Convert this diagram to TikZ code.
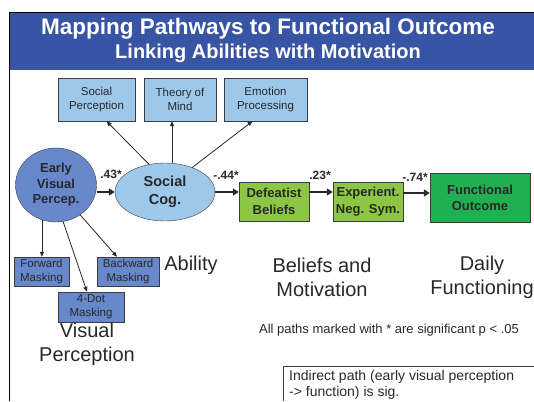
\documentclass[tikz,border=0pt]{standalone}
\usepackage{fontspec}
\setmainfont{Liberation Sans}
\usetikzlibrary{arrows.meta}
\usetikzlibrary{shapes.geometric}
\definecolor{titleblue}{RGB}{56,84,164}
\definecolor{skyblue}{RGB}{158,200,234}
\definecolor{midblue}{RGB}{104,136,204}
\definecolor{leafgreen}{RGB}{140,198,68}
\definecolor{deepgreen}{RGB}{32,176,82}
\definecolor{inkgray}{RGB}{40,40,40}
\definecolor{edgegray}{RGB}{60,60,60}
\newcommand*{\fsz}[2]{\fontsize{#1}{#2}\selectfont}

\begin{document}
\begin{tikzpicture}[x=1pt,y=-1pt,
    every node/.style={text=inkgray},
    measure/.style={draw=edgegray, fill=skyblue, inner sep=1pt, align=center,
                    minimum height=43pt, font=\fsz{11.5}{14}},
    lowmeasure/.style={measure, fill=midblue, minimum height=29pt},
    latent/.style={draw=edgegray, ellipse, inner sep=0pt, align=center,
                   font=\bfseries\fsz{13}{15.5}},
    belief/.style={draw=edgegray, fill=leafgreen, minimum width=70pt, minimum height=39pt,
                   inner sep=1pt, align=center, font=\bfseries\fsz{13}{17}},
    coef/.style={inner sep=0pt, font=\bfseries\fsz{12}{14}},
    heading/.style={inner sep=0pt, align=center, font=\fsz{20}{24}},
    mainpath/.style={line width=2.2pt, draw=inkgray, -{Triangle[length=6pt,width=7pt]}},
    load/.style={line width=0.8pt, draw=inkgray, -{Triangle[length=5pt,width=4pt]}}]
  \useasboundingbox (0,0) rectangle (534,401);
  % frame and title bar
  \fill[titleblue] (9,12) rectangle (534,70);
  \draw[line width=0.8pt] (534,12) -- (9,12) -- (9,401);
  \node[inner sep=0pt, text=white, font=\bfseries\fsz{22.5}{26}] (title) at (268,29)
    {Mapping Pathways to Functional Outcome};
  \node[inner sep=0pt, text=white, font=\bfseries\fsz{20}{24}] (subtitle) at (268,53)
    {Linking Abilities with Motivation};

  % social cognition measures
  \node[measure, minimum width=77pt] (sp) at (96.5,99.5) {Social\\Perception};
  \node[measure, minimum width=72pt] (tom) at (180,99.5) {Theory of\\Mind};
  \node[measure, minimum width=83pt] (ep) at (265.5,99.5) {Emotion\\Processing};

  % latent variables
  \node[latent, fill=midblue, minimum width=81pt, minimum height=74pt] (evp) at (56,185)
    {Early\\Visual\\Percep.};
  \node[latent, fill=skyblue, minimum width=100pt, minimum height=58pt,
        font=\bfseries\fsz{14.5}{18}] (scog) at (165,192) {Social\\Cog.};

  \node[belief] (def) at (274,201.5) {Defeatist\\Beliefs};
  \node[belief] (neg) at (368,201.5) {Experient.\\Neg. Sym.};
  \node[belief, fill=deepgreen, minimum width=100pt, minimum height=49pt,
        font=\bfseries\fsz{13}{16}] (fo) at (480,197.5) {Functional\\Outcome};

  % visual perception measures
  \node[lowmeasure, minimum width=55pt] (fwd) at (41.5,271.5) {Forward\\Masking};
  \node[lowmeasure, minimum width=62pt] (bwd) at (128,271.5) {Backward\\Masking};
  \node[lowmeasure, minimum width=66pt, minimum height=30pt] (dot) at (91,307) {4-Dot\\Masking};

  % structural paths
  \draw[mainpath] (evp.east |- scog.west) -- (scog.west);
  \draw[mainpath] (scog.east) -- (scog.east -| def.west);
  \draw[mainpath] (def.east |- scog.east) -- (neg.west |- scog.east);
  \draw[mainpath] ([yshift=-1pt]neg.east |- scog.east) -- ([yshift=-1pt]fo.west |- scog.east);
  \node[coef] (c1) at (111,174) {.43*};
  \node[coef] (c2) at (226,175) {-.44*};
  \node[coef] (c3) at (320,175) {.23*};
  \node[coef] (c4) at (415,177) {-.74*};

  % loadings
  \draw[load] (scog.120) -- ([xshift=10pt]sp.south);
  \draw[load] ([xshift=7pt]scog.north) -- ([xshift=7pt]scog.north |- tom.south);
  \draw[load] (scog.42) -- ([xshift=-13pt]ep.south);
  \draw[load] (evp.-112) -- (evp.-112 |- fwd.north);
  \draw[load] (evp.-79) -- ([xshift=-4pt]dot.north);
  \draw[load] (evp.-51) -- ([xshift=-11pt]bwd.north);

  % domain headings
  \node[heading] (ability) at (191,265) {Ability};
  \node[heading] (visual) at (87,344) {Visual\\Perception};
  \node[heading] (motiv) at (322,277) {Beliefs and\\Motivation};
  \node[heading] (daily) at (482,277) {Daily\\Functioning};

  \node[inner sep=0pt, font=\fsz{13}{15}] (sig) at (389,330)
    {All paths marked with * are significant p < .05};
  \draw[line width=0.6pt, draw=edgegray] (534,366) -- (283,366) -- (283,401);
  \node[anchor=north west, inner sep=0pt, align=left, font=\fsz{14}{16}] (note) at (289,370)
    {Indirect path (early visual perception\\-> function) is sig.};
\end{tikzpicture}
\end{document}
